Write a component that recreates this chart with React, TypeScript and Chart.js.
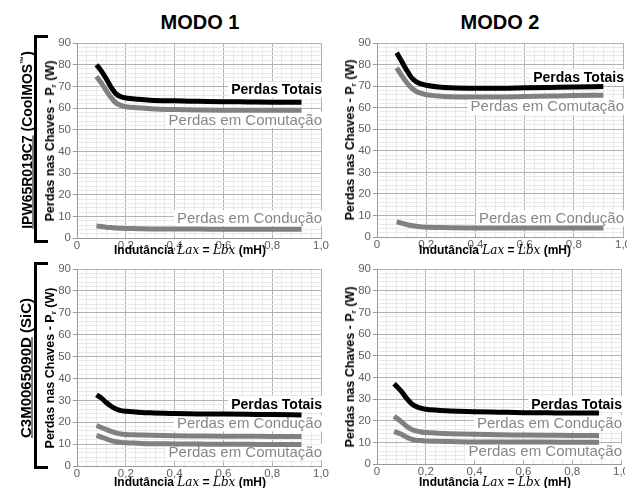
import React, { useEffect, useRef } from "react";
import { Chart, registerables } from "chart.js";

Chart.register(...registerables);

// ---------- data ----------
const X_A = [0.08, 0.1, 0.12, 0.14, 0.16, 0.18, 0.2, 0.25, 0.3, 0.4, 0.5, 0.6, 0.7, 0.8, 0.92];
const X_B = [0.07, 0.1, 0.12, 0.14, 0.16, 0.18, 0.2, 0.25, 0.3, 0.4, 0.5, 0.6, 0.7, 0.8, 0.91];

// IPW65R019C7 (CoolMOS) - MODO 1
const COOL_M1_TOTAIS = [80, 77, 73.5, 69.5, 66.5, 65.2, 64.6, 64, 63.6, 63.3, 63.1, 62.9, 62.8, 62.7, 62.6];
const COOL_M1_COMUT = [74.5, 71.5, 68, 64.8, 62.3, 61.2, 60.6, 60.1, 59.7, 59.3, 59.1, 59, 59, 59, 59];
const COOL_M1_COND = [5.6, 5.3, 5, 4.8, 4.6, 4.5, 4.4, 4.3, 4.2, 4.1, 4.1, 4, 4, 4, 4];

// IPW65R019C7 (CoolMOS) - MODO 2
const COOL_M2_TOTAIS = [85.5, 81.5, 77.5, 74, 72, 71, 70.4, 69.6, 69.2, 69, 69, 69.2, 69.4, 69.6, 69.8];
const COOL_M2_COMUT = [78.5, 75, 71.8, 69.2, 67.5, 66.6, 66, 65.4, 65.1, 65, 65, 65.2, 65.4, 65.6, 65.8];
const COOL_M2_COND = [7, 6.4, 5.8, 5.3, 5, 4.7, 4.5, 4.4, 4.3, 4.2, 4.2, 4.2, 4.2, 4.2, 4.2];

// C3M0065090D (SiC) - MODO 1
const SIC_M1_TOTAIS = [32.5, 31, 29, 27.3, 26, 25.3, 25, 24.6, 24.3, 24, 23.8, 23.7, 23.6, 23.5, 23.3];
const SIC_M1_COND = [18.5, 17.6, 16.7, 15.8, 15.1, 14.6, 14.4, 14.2, 14, 13.8, 13.7, 13.6, 13.6, 13.5, 13.5];
const SIC_M1_COMUT = [14, 13.2, 12.4, 11.6, 11.1, 10.8, 10.6, 10.4, 10.2, 10.1, 10, 9.9, 9.9, 9.8, 9.8];

// C3M0065090D (SiC) - MODO 2
const SIC_M2_TOTAIS = [37, 33.5, 30.5, 28, 26.5, 25.8, 25.3, 24.8, 24.5, 24.1, 23.9, 23.7, 23.6, 23.5, 23.5];
const SIC_M2_COND = [22, 19.5, 17.5, 16, 15.3, 14.8, 14.5, 14.2, 14, 13.7, 13.5, 13.4, 13.3, 13.2, 13.2];
const SIC_M2_COMUT = [15, 13.7, 12.5, 11.5, 11, 10.8, 10.6, 10.5, 10.4, 10.2, 10.2, 10.1, 10.1, 10, 10];

const X_TICK_LABELS = ["0", "0,2", "0,4", "0,6", "0,8", "1,0"];
const Y_TICK_LABELS = ["0", "10", "20", "30", "40", "50", "60", "70", "80", "90"];

const MODE_TITLES = ["MODO 1", "MODO 2"];
const NAME_TOTAIS = "Perdas Totais";
const NAME_COMUT = "Perdas em Comutação";
const NAME_COND = "Perdas em Condução";

// ---------- styles ----------
const FONT = '"Liberation Sans", Arial, Helvetica, sans-serif';
const BLACK = "#000000";
const GRAY_LINE = "#808080";
const GRAY_TEXT = "#878787";
const GRID_MAJOR = "#b2b2b2";
const GRID_MINOR = "#e9e9e9";

const YW = 30; // forced y axis width
const XH = 16; // forced x axis height
const PT = 10; // top padding

type Note = { text: string; y: number; color: string; bold: boolean };
type PanelDef = {
  x: number[];
  series: { name: string; data: number[]; color: string }[];
  notes: Note[];
  area: [number, number, number, number];
  padRight: number;
  xTitleCx: number;
  xTitleCy: number;
};

const PANELS: PanelDef[] = [
  {
    x: X_A,
    series: [
      { name: NAME_COND, data: COOL_M1_COND, color: GRAY_LINE },
      { name: NAME_COMUT, data: COOL_M1_COMUT, color: GRAY_LINE },
      { name: NAME_TOTAIS, data: COOL_M1_TOTAIS, color: BLACK },
    ],
    notes: [
      { text: NAME_TOTAIS, y: 68.3, color: BLACK, bold: true },
      { text: NAME_COMUT, y: 54.5, color: GRAY_TEXT, bold: false },
      { text: NAME_COND, y: 9.2, color: GRAY_TEXT, bold: false },
    ],
    area: [77, 43, 321, 238],
    padRight: 12,
    xTitleCx: 190,
    xTitleCy: 250,
  },
  {
    x: X_A,
    series: [
      { name: NAME_COND, data: COOL_M2_COND, color: GRAY_LINE },
      { name: NAME_COMUT, data: COOL_M2_COMUT, color: GRAY_LINE },
      { name: NAME_TOTAIS, data: COOL_M2_TOTAIS, color: BLACK },
    ],
    notes: [
      { text: NAME_TOTAIS, y: 74, color: BLACK, bold: true },
      { text: NAME_COMUT, y: 60.4, color: GRAY_TEXT, bold: false },
      { text: NAME_COND, y: 8.7, color: GRAY_TEXT, bold: false },
    ],
    area: [377, 43, 623, 237],
    padRight: 4,
    xTitleCx: 495,
    xTitleCy: 250,
  },
  {
    x: X_A,
    series: [
      { name: NAME_COMUT, data: SIC_M1_COMUT, color: GRAY_LINE },
      { name: NAME_COND, data: SIC_M1_COND, color: GRAY_LINE },
      { name: NAME_TOTAIS, data: SIC_M1_TOTAIS, color: BLACK },
    ],
    notes: [
      { text: NAME_TOTAIS, y: 28.2, color: BLACK, bold: true },
      { text: NAME_COND, y: 19.5, color: GRAY_TEXT, bold: false },
      { text: NAME_COMUT, y: 6.3, color: GRAY_TEXT, bold: false },
    ],
    area: [77, 269, 321, 466],
    padRight: 12,
    xTitleCx: 190,
    xTitleCy: 481.5,
  },
  {
    x: X_B,
    series: [
      { name: NAME_COMUT, data: SIC_M2_COMUT, color: GRAY_LINE },
      { name: NAME_COND, data: SIC_M2_COND, color: GRAY_LINE },
      { name: NAME_TOTAIS, data: SIC_M2_TOTAIS, color: BLACK },
    ],
    notes: [
      { text: NAME_TOTAIS, y: 27.6, color: BLACK, bold: true },
      { text: NAME_COND, y: 18.8, color: GRAY_TEXT, bold: false },
      { text: NAME_COMUT, y: 5.7, color: GRAY_TEXT, bold: false },
    ],
    area: [377, 269, 621, 464],
    padRight: 4,
    xTitleCx: 495,
    xTitleCy: 481.5,
  },
];

const notesPlugin = {
  id: "notes",
  beforeDatasetsDraw(chart: any, _args: any, opts: any) {
    const notes: Note[] = opts.notes || [];
    const { ctx, chartArea } = chart;
    const ys = chart.scales.y;
    ctx.save();
    for (const n of notes) {
      ctx.font = n.bold ? `bold 14px ${FONT}` : `normal 15px ${FONT}`;
      const w = ctx.measureText(n.text).width;
      const xr = chartArea.right + 1;
      const yc = ys.getPixelForValue(n.y);
      ctx.fillStyle = "#ffffff";
      ctx.fillRect(xr - w - 3, yc - 8, w + 4, 16);
      ctx.fillStyle = n.color;
      ctx.textAlign = "right";
      ctx.textBaseline = "middle";
      ctx.fillText(n.text, xr, yc + 0.5);
    }
    ctx.restore();
  },
};

function isMajor(v: number, step: number) {
  const r = v / step;
  return Math.abs(r - Math.round(r)) < 1e-6;
}

function PanelChart({ def }: { def: PanelDef }) {
  const ref = useRef<HTMLCanvasElement | null>(null);
  const [L, T, R, B] = def.area;
  const cw = R - L + YW + def.padRight;
  const ch = B - T + PT + XH;

  useEffect(() => {
    if (!ref.current) return;
    const chart = new Chart(ref.current, {
      type: "line",
      data: {
        datasets: def.series.map((s) => ({
          label: s.name,
          data: def.x.map((xv, i) => ({ x: xv, y: s.data[i] })),
          borderColor: s.color,
          backgroundColor: s.color,
          borderWidth: 5,
          pointRadius: 0,
          fill: false,
          cubicInterpolationMode: "monotone" as const,
          borderCapStyle: "butt" as const,
          borderJoinStyle: "round" as const,
        })),
      },
      options: {
        animation: false,
        responsive: false,
        events: [],
        layout: { padding: { top: PT, left: 0, right: def.padRight, bottom: 0 } },
        plugins: {
          legend: { display: false },
          tooltip: { enabled: false },
          title: { display: false },
          notes: { notes: def.notes },
        } as any,
        scales: {
          x: {
            type: "linear",
            min: 0,
            max: 1,
            ticks: {
              stepSize: 0.04,
              autoSkip: false,
              maxRotation: 0,
              minRotation: 0,
              padding: 1,
              color: "#606060",
              font: { size: 11.5, family: FONT },
              callback: (v: any) => {
                const n = Number(v);
                return isMajor(n, 0.2) ? X_TICK_LABELS[Math.round(n / 0.2)] : "";
              },
            },
            grid: {
              drawTicks: false,
              lineWidth: 1,
              color: (c: any) => (c.tick && isMajor(c.tick.value, 0.2) ? GRID_MAJOR : GRID_MINOR),
            },
            border: { color: "#9a9a9a", width: 1 },
            afterFit: (s: any) => {
              s.height = XH;
              s.paddingLeft = 0;
              s.paddingRight = 0;
            },
          },
          y: {
            type: "linear",
            min: 0,
            max: 90,
            ticks: {
              stepSize: 2,
              autoSkip: false,
              padding: 2,
              color: "#606060",
              font: { size: 11.5, family: FONT },
              callback: (v: any) => {
                const n = Number(v);
                return isMajor(n, 10) ? Y_TICK_LABELS[Math.round(n / 10)] : "";
              },
            },
            grid: {
              lineWidth: 1,
              tickLength: 4,
              color: (c: any) => (c.tick && isMajor(c.tick.value, 10) ? GRID_MAJOR : GRID_MINOR),
              tickColor: (c: any) => (c.tick && isMajor(c.tick.value, 10) ? "#9a9a9a" : "rgba(0,0,0,0)"),
            },
            border: { color: "#9a9a9a", width: 1 },
            afterFit: (s: any) => {
              s.width = YW;
              s.paddingTop = 0;
              s.paddingBottom = 0;
            },
          },
        } as any,
      },
      plugins: [notesPlugin],
    });
    return () => chart.destroy();
  }, [def]);

  return (
    <canvas
      ref={ref}
      width={cw}
      height={ch}
      style={{ position: "absolute", left: L - YW, top: T - PT, width: cw, height: ch }}
    />
  );
}

function YTitle({ cx, cy }: { cx: number; cy: number }) {
  return (
    <div
      style={{
        position: "absolute",
        left: cx,
        top: cy,
        transform: "translate(-50%, -50%) rotate(-90deg)",
        whiteSpace: "nowrap",
        fontWeight: "bold",
        fontSize: 12.5,
        lineHeight: "14px",
        color: "#000",
      }}
    >
      Perdas nas Chaves - P<sub style={{ fontSize: 8, verticalAlign: "-2px" }}>r</sub> (W)
    </div>
  );
}

function XTitle({ cx, cy }: { cx: number; cy: number }) {
  const math: React.CSSProperties = {
    fontFamily: '"DejaVu Serif", "Liberation Serif", serif',
    fontStyle: "italic",
    fontWeight: "normal",
    fontSize: 12,
  };
  return (
    <div
      style={{
        position: "absolute",
        left: cx,
        top: cy,
        transform: "translate(-50%, -50%)",
        whiteSpace: "nowrap",
        fontWeight: "bold",
        fontSize: 12,
        lineHeight: "14px",
        color: "#000",
      }}
    >
      Indutância <span style={math}>Lax</span> = <span style={math}>Lbx</span> (mH)
    </div>
  );
}

function Bracket({ top, bottom }: { top: number; bottom: number }) {
  return (
    <div
      style={{
        position: "absolute",
        left: 34,
        top,
        width: 11,
        height: bottom - top - 6,
        borderLeft: "3px solid #000",
        borderTop: "3px solid #000",
        borderBottom: "3px solid #000",
      }}
    />
  );
}

function RowLabel({ cy, size, children }: { cy: number; size: number; children: React.ReactNode }) {
  return (
    <div
      style={{
        position: "absolute",
        left: 25,
        top: cy,
        transform: "translate(-50%, -50%) rotate(-90deg)",
        whiteSpace: "nowrap",
        fontWeight: "bold",
        fontSize: size,
        lineHeight: "17px",
        color: "#000",
      }}
    >
      {children}
    </div>
  );
}

export default function App() {
  return (
    <div
      style={{
        position: "absolute",
        left: 0,
        top: 0,
        width: 642,
        height: 488,
        background: "#fff",
        overflow: "hidden",
        fontFamily: FONT,
      }}
    >
      {MODE_TITLES.map((t, i) => (
        <div
          key={t}
          style={{
            position: "absolute",
            left: i === 0 ? 200 : 500,
            top: 22,
            transform: "translate(-50%, -50%)",
            fontWeight: "bold",
            fontSize: 20,
            lineHeight: "22px",
            whiteSpace: "nowrap",
          }}
        >
          {t}
        </div>
      ))}

      {PANELS.map((p, i) => (
        <React.Fragment key={i}>
          <PanelChart def={p} />
          <YTitle cx={p.area[0] - 25} cy={(p.area[1] + p.area[3]) / 2} />
          <XTitle cx={p.xTitleCx} cy={p.xTitleCy} />
        </React.Fragment>
      ))}

      <Bracket top={35} bottom={243} />
      <Bracket top={262} bottom={469} />

      <RowLabel cy={140} size={14}>
        <span style={{ textDecoration: "underline" }}>IPW65R019C7</span> (CoolMOS
        <sup style={{ fontSize: 8, verticalAlign: "6px" }}>™</sup>)
      </RowLabel>
      <RowLabel cy={368} size={15}>
        <span style={{ textDecoration: "underline" }}>C3M0065090D</span> (SiC)
      </RowLabel>
    </div>
  );
}
